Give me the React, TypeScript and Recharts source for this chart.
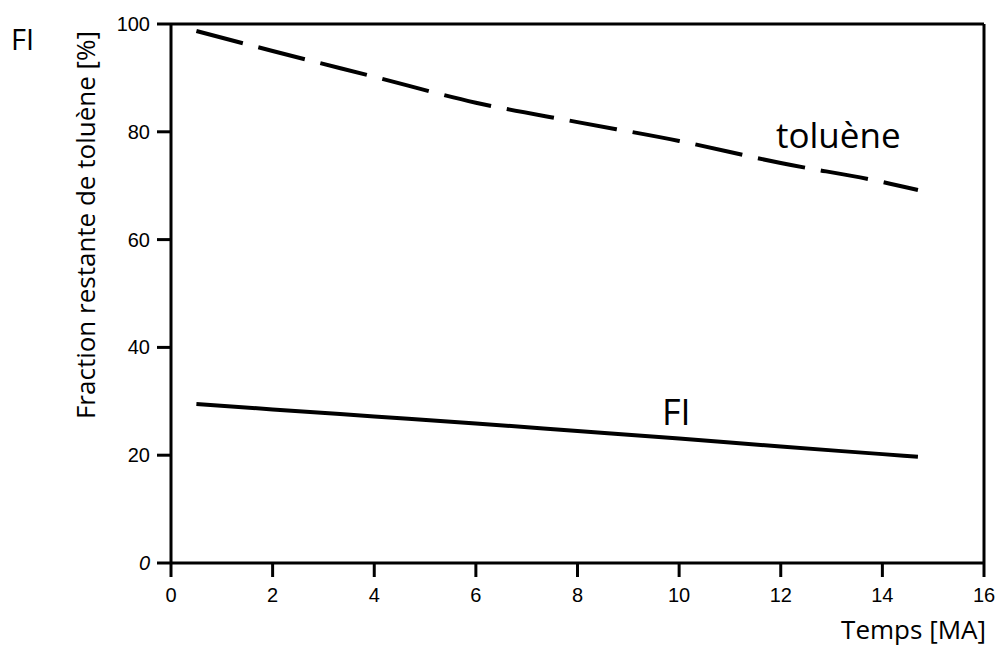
import { CartesianGrid, Line, LineChart, ReferenceLine, XAxis, YAxis } from "recharts";

const years = [0.5, 2, 4, 6, 8, 10, 12, 14, 14.7];
const toluene = [98.7, 95.0, 90.2, 85.4, 81.8, 78.3, 74.2, 70.7, 69.2];
const fi = [29.5, 28.5, 27.2, 25.9, 24.5, 23.1, 21.6, 20.2, 19.7];
const xTicks = [0, 2, 4, 6, 8, 10, 12, 14, 16];
const yTicks = [0, 20, 40, 60, 80, 100];

const rows = years.map((t, i) => ({ t, toluene: toluene[i], fi: fi[i] }));

const TICK_FONT = "'Liberation Sans', Arial, sans-serif";
const LABEL_FONT = "'Open Sans', 'Noto Sans', sans-serif";

function YTick(props: any) {
  const { x, y, payload } = props;
  return (
    <text
      x={x}
      y={y}
      dy={7}
      textAnchor="end"
      fontFamily={TICK_FONT}
      fontSize={20}
      fill="#000"
      fontStyle={payload.value === 0 ? "italic" : "normal"}
    >
      {payload.value}
    </text>
  );
}

function XTick(props: any) {
  const { x, y, payload } = props;
  return (
    <text
      x={x}
      y={y}
      dy={17}
      textAnchor="middle"
      fontFamily={TICK_FONT}
      fontSize={20}
      fill="#000"
    >
      {payload.value}
    </text>
  );
}

export default function App() {
  return (
    <div style={{ position: "absolute", left: 0, top: 0, width: 998, height: 648, background: "#fff" }}>
      <LineChart
        width={998}
        height={648}
        data={rows}
        margin={{ top: 24, right: 14, left: 0, bottom: 0 }}
      >
        <CartesianGrid stroke="none" />
        <XAxis
          dataKey="t"
          type="number"
          domain={[0, 16]}
          ticks={xTicks}
          height={85}
          tickSize={14}
          tickMargin={8}
          axisLine={{ stroke: "#000", strokeWidth: 3 }}
          tickLine={{ stroke: "#000", strokeWidth: 3 }}
          tick={<XTick />}
        />
        <YAxis
          type="number"
          domain={[0, 100]}
          ticks={yTicks}
          width={171}
          tickSize={14}
          tickMargin={7}
          axisLine={{ stroke: "#000", strokeWidth: 3 }}
          tickLine={{ stroke: "#000", strokeWidth: 3 }}
          tick={<YTick />}
        />
        <ReferenceLine y={100} stroke="#000" strokeWidth={3} />
        <ReferenceLine x={16} stroke="#000" strokeWidth={3} />
        <Line
          type="monotone"
          dataKey="toluene"
          stroke="#000"
          strokeWidth={4}
          strokeDasharray="48 16"
          dot={false}
          isAnimationActive={false}
        />
        <Line
          type="monotone"
          dataKey="fi"
          stroke="#000"
          strokeWidth={4}
          dot={false}
          isAnimationActive={false}
        />
      </LineChart>
      <svg
        width={998}
        height={648}
        style={{ position: "absolute", left: 0, top: 0, pointerEvents: "none" }}
      >
        <g fontFamily={LABEL_FONT} fill="#000">
          <text x={11} y={50} fontSize={29}>FI</text>
          <text x={776} y={148} fontSize={35}>toluène</text>
          <text x={662} y={425} fontSize={36}>FI</text>
          <text x={986} y={639} fontSize={26} textAnchor="end">Temps [MA]</text>
          <text
            x={0}
            y={0}
            fontSize={26}
            textAnchor="middle"
            transform="translate(95 225) rotate(-90)"
          >
            Fraction restante de toluène [%]
          </text>
        </g>
      </svg>
    </div>
  );
}
